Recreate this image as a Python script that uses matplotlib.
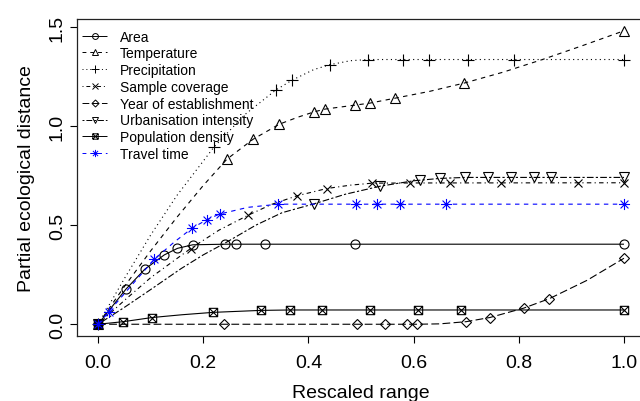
import numpy as np
import matplotlib
matplotlib.use("Agg")
import matplotlib.pyplot as plt
from matplotlib.path import Path
from matplotlib.lines import Line2D

plt.rcParams['font.family'] = ['Liberation Sans', 'DejaVu Sans']

labels = ["Area", "Temperature", "Precipitation", "Sample coverage",
          "Year of establishment", "Urbanisation intensity",
          "Population density", "Travel time"]

# ---- Area
area_x = [0, 0.053, 0.089, 0.126, 0.151, 0.180, 0.242, 0.262, 0.318, 0.489, 1.0]
area_y = [0, 0.177, 0.278, 0.350, 0.383, 0.401, 0.404, 0.404, 0.404, 0.404, 0.404]
area_mx = area_x
area_my = area_y

# ---- Temperature
temp_x = [0, 0.05, 0.1, 0.15, 0.2, 0.245, 0.295, 0.345, 0.38, 0.411, 0.432, 0.489,
          0.517, 0.565, 0.63, 0.696, 0.77, 0.845, 0.92, 1.0]
temp_y = [0, 0.19, 0.37, 0.54, 0.70, 0.833, 0.934, 1.010, 1.045, 1.072, 1.086, 1.106,
          1.116, 1.141, 1.175, 1.217, 1.272, 1.336, 1.405, 1.481]
temp_mx = [0, 0.245, 0.295, 0.345, 0.411, 0.432, 0.489, 0.517, 0.565, 0.696, 1.0]
temp_my = [0, 0.833, 0.934, 1.010, 1.072, 1.086, 1.106, 1.116, 1.141, 1.217, 1.481]

# ---- Precipitation
prec_x = [0, 0.05, 0.1, 0.15, 0.221, 0.28, 0.338, 0.369, 0.41, 0.441, 0.48, 0.513, 1.0]
prec_y = [0, 0.23, 0.45, 0.65, 0.896, 1.06, 1.182, 1.232, 1.285, 1.310, 1.330, 1.336, 1.336]
prec_mx = [0, 0.221, 0.338, 0.369, 0.441, 0.513, 0.579, 0.630, 0.703, 0.790, 1.0]
prec_my = [0, 0.896, 1.182, 1.232, 1.310, 1.336, 1.336, 1.336, 1.336, 1.336, 1.336]

# ---- Sample coverage
samp_x = [0, 0.05, 0.1, 0.176, 0.23, 0.286, 0.33, 0.378, 0.435, 0.48, 0.521, 0.6, 1.0]
samp_y = [0, 0.12, 0.235, 0.382, 0.475, 0.551, 0.605, 0.648, 0.685, 0.702, 0.712, 0.713, 0.714]
samp_mx = [0, 0.176, 0.286, 0.378, 0.435, 0.521, 0.593, 0.670, 0.766, 0.912, 1.0]
samp_my = [0, 0.382, 0.551, 0.648, 0.685, 0.712, 0.713, 0.713, 0.713, 0.713, 0.714]

# ---- Year of establishment
year_x = [0, 0.240, 0.492, 0.545, 0.587, 0.606, 0.65, 0.700, 0.745, 0.809, 0.858, 0.93, 1.0]
year_y = [0, 0, 0, 0, 0, 0, 0.002, 0.013, 0.034, 0.081, 0.129, 0.222, 0.333]
year_mx = [0, 0.240, 0.492, 0.545, 0.587, 0.606, 0.700, 0.745, 0.809, 0.858, 1.0]
year_my = [0, 0, 0, 0, 0, 0, 0.013, 0.034, 0.081, 0.129, 0.333]

# ---- Urbanisation intensity
urb_x = [0, 0.05, 0.1, 0.158, 0.2, 0.243, 0.3, 0.35, 0.411, 0.47, 0.537, 0.6, 0.65, 0.698, 1.0]
urb_y = [0, 0.085, 0.175, 0.281, 0.35, 0.412, 0.50, 0.563, 0.608, 0.656, 0.697, 0.724, 0.736, 0.741, 0.741]
urb_mx = [0, 0.411, 0.537, 0.613, 0.651, 0.698, 0.741, 0.786, 0.829, 0.862, 1.0]
urb_my = [0, 0.608, 0.697, 0.726, 0.736, 0.741, 0.741, 0.741, 0.741, 0.741, 0.741]

# ---- Population density
pop_x = [0, 0.048, 0.103, 0.16, 0.219, 0.310, 0.365, 1.0]
pop_y = [0, 0.013, 0.034, 0.048, 0.060, 0.070, 0.072, 0.072]
pop_mx = [0, 0.048, 0.103, 0.219, 0.310, 0.365, 0.425, 0.518, 0.609, 0.690, 1.0]
pop_my = [0, 0.013, 0.034, 0.060, 0.070, 0.072, 0.072, 0.072, 0.072, 0.072, 0.072]

# ---- Travel time
trav_x = [0, 0.020, 0.060, 0.107, 0.145, 0.179, 0.207, 0.231, 0.285, 0.343, 1.0]
trav_y = [0, 0.062, 0.185, 0.328, 0.415, 0.485, 0.528, 0.556, 0.590, 0.606, 0.606]
trav_mx = [0, 0.020, 0.107, 0.179, 0.207, 0.231, 0.343, 0.490, 0.530, 0.575, 0.662, 1.0]
trav_my = [0, 0.062, 0.328, 0.485, 0.528, 0.556, 0.606, 0.606, 0.606, 0.606, 0.606, 0.606]

xticks = [0.0, 0.2, 0.4, 0.6, 0.8, 1.0]
yticks = [0.0, 0.5, 1.0, 1.5]

# custom markers
M, L = Path.MOVETO, Path.LINETO
boxx = Path([(-1, -1), (1, -1), (1, 1), (-1, 1), (-1, -1), (-1, -1), (1, 1), (-1, 1), (1, -1)],
            [M, L, L, L, L, M, L, M, L])
d = 0.7071
aster = Path([(-1, 0), (1, 0), (0, -1), (0, 1), (-d, -d), (d, d), (-d, d), (d, -d)],
             [M, L, M, L, M, L, M, L])

series = [
    (area_x, area_y, area_mx, area_my, (0, ()), 'o', 6.5, 'black'),
    (temp_x, temp_y, temp_mx, temp_my, (0, (4, 4)), '^', 7, 'black'),
    (prec_x, prec_y, prec_mx, prec_my, (0, (1, 3)), '+', 8, 'black'),
    (samp_x, samp_y, samp_mx, samp_my, (0, (1, 3, 4, 3)), 'x', 6, 'black'),
    (year_x, year_y, year_mx, year_my, (0, (7, 3)), 'D', 5.5, 'black'),
    (urb_x, urb_y, urb_mx, urb_my, (0, (2, 2, 6, 2)), 'v', 7, 'black'),
    (pop_x, pop_y, pop_mx, pop_my, (0, ()), boxx, 6, 'black'),
    (trav_x, trav_y, trav_mx, trav_my, (0, (4, 4)), aster, 8, '#0000FF'),
]

fig = plt.figure(figsize=(6.4, 4.02), dpi=100)
W, H = 640, 402
left, right, top, bottom = 77, 645, 20, 337
ax = fig.add_axes([left / W, 1 - bottom / H, (right - left) / W, (bottom - top) / H])

lw = 0.8
handles = []
for (lx, ly, mx, my, ls, mk, ms, col), lab in zip(series, labels):
    ax.plot(lx, ly, linestyle=ls, color=col, lw=lw)
    ax.plot(mx, my, linestyle='none', marker=mk, markersize=ms, markerfacecolor='none',
            markeredgecolor=col, markeredgewidth=lw)
    handles.append(Line2D([], [], linestyle=ls, color=col, lw=0.7, marker=mk, markersize=ms * 0.65,
                          markerfacecolor='none', markeredgecolor=col, markeredgewidth=0.7))

ax.set_xlim(-0.04, 1.04)
ax.set_ylim(-0.0593, 1.5405)
ax.set_xticks(xticks)
ax.set_xticklabels([f"{v:.1f}" for v in xticks])
ax.set_yticks(yticks)
ax.set_yticklabels([f"{v:.1f}" for v in yticks], rotation=90, va='center')
ax.tick_params(direction='out', length=5, width=0.8, labelsize=14, color='black')
ax.tick_params(axis='x', pad=8)
ax.tick_params(axis='y', pad=3)
for s in ax.spines.values():
    s.set_linewidth(0.9)
    s.set_color('#222222')

ax.set_xlabel("Rescaled range", fontsize=14, labelpad=9)
ax.set_ylabel("Partial ecological distance", fontsize=14, labelpad=10)

leg = ax.legend(handles, labels, loc='upper left', bbox_to_anchor=(82 / W, 1 - 30.5 / H),
                bbox_transform=fig.transFigure, frameon=False, fontsize=10,
                handlelength=1.8, handletextpad=0.95, labelspacing=0.2,
                borderpad=0, borderaxespad=0, numpoints=1)

fig.savefig("out.png", dpi=100)
